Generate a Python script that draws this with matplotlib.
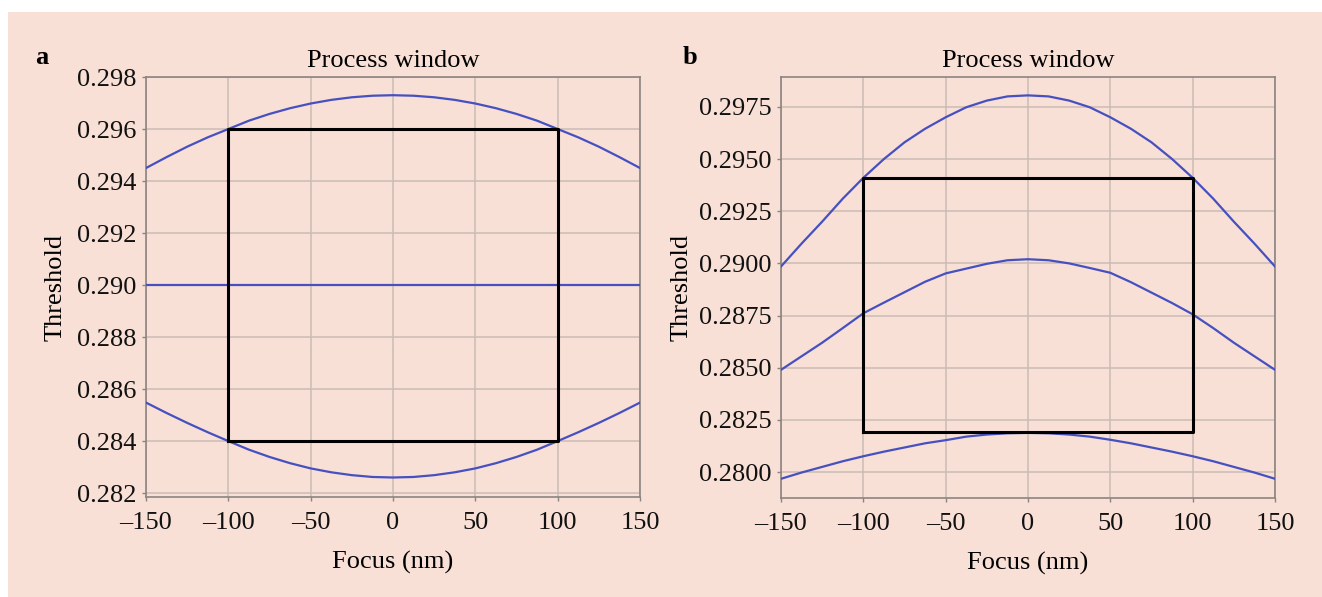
import matplotlib.pyplot as plt
import matplotlib.patches as patches

plt.rcParams['font.family'] = ['Liberation Serif', 'DejaVu Serif']

# focus values (nm)
focus = [-150, -137.5, -125, -112.5, -100, -87.5, -75, -62.5, -50, -37.5, -25, -12.5, 0,
         12.5, 25, 37.5, 50, 62.5, 75, 87.5, 100, 112.5, 125, 137.5, 150]

# panel a thresholds
a_upper = [0.29450, 0.29492, 0.29532, 0.29568, 0.29600, 0.29632, 0.29658, 0.29680,
           0.29698, 0.29712, 0.29722, 0.29728, 0.29730, 0.29728, 0.29722, 0.29712,
           0.29698, 0.29680, 0.29658, 0.29632, 0.29600, 0.29568, 0.29532, 0.29492,
           0.29450]
a_middle = [0.2900] * 25
a_lower = [0.28548, 0.28508, 0.28470, 0.28434, 0.28400, 0.28367, 0.28339, 0.28315,
           0.28295, 0.28280, 0.28269, 0.28262, 0.28260, 0.28262, 0.28269, 0.28280,
           0.28295, 0.28315, 0.28339, 0.28367, 0.28400, 0.28434, 0.28470, 0.28508,
           0.28548]
a_window = (-100, 100, 0.2840, 0.2960)
a_yticks = [0.282, 0.284, 0.286, 0.288, 0.290, 0.292, 0.294, 0.296, 0.298]

# panel b thresholds
b_upper = [0.28985, 0.29095, 0.29200, 0.29310, 0.29410, 0.29500, 0.29580, 0.29645,
           0.29700, 0.29748, 0.29780, 0.29800, 0.29805, 0.29800, 0.29780, 0.29748,
           0.29700, 0.29645, 0.29580, 0.29500, 0.29410, 0.29310, 0.29200, 0.29095,
           0.28985]
b_middle = [0.28490, 0.28555, 0.28620, 0.28690, 0.28761, 0.28812, 0.28862, 0.28912,
            0.28952, 0.28975, 0.28998, 0.29015, 0.29020, 0.29015, 0.29000, 0.28978,
            0.28955, 0.28910, 0.28860, 0.28810, 0.28756, 0.28690, 0.28620, 0.28555,
            0.28490]
b_lower = [0.27968, 0.27998, 0.28025, 0.28052, 0.28076, 0.28098, 0.28118, 0.28138,
           0.28153, 0.28170, 0.28180, 0.28186, 0.28188, 0.28186, 0.28180, 0.28170,
           0.28155, 0.28138, 0.28118, 0.28098, 0.28076, 0.28052, 0.28025, 0.27998,
           0.27968]
b_window = (-100, 100, 0.2819, 0.2941)
b_yticks = [0.2800, 0.2825, 0.2850, 0.2875, 0.2900, 0.2925, 0.2950, 0.2975]

xticks = [-150, -100, -50, 0, 50, 100, 150]
xticklabels = ['\u2013150', '\u2013100', '\u201350', '0', '50', '100', '150']

bg = '#f8e0d6'
blue = '#4650c0'
grid_c = '#cbbcb4'
spine_c = '#8c8480'
fs = 19

fig = plt.figure(figsize=(13.22, 5.97), dpi=100)
fig.patch.set_facecolor('white')
fig.patches.append(patches.Rectangle((8 / 1322, 0), 1 - 8 / 1322, 1 - 12 / 597,
                                     transform=fig.transFigure, facecolor=bg,
                                     edgecolor='none', zorder=-10))


def draw_panel(ax, curves, window, yticks, ylim, yfmt, ylab_x):
    ax.set_facecolor(bg)
    for ys in curves:
        ax.plot(focus, ys, color=blue, lw=1.6, zorder=3)
    x0, x1, y0, y1 = window
    ax.plot([x0, x1, x1, x0, x0], [y0, y0, y1, y1, y0], color='black',
            lw=2.2, zorder=4)
    ax.set_xlim(-150, 150)
    ax.set_ylim(*ylim)
    ax.set_xticks(xticks)
    ax.set_xticklabels(xticklabels)
    ax.set_yticks(yticks)
    ax.set_yticklabels([yfmt.format(v) for v in yticks])
    ax.grid(True, color=grid_c, lw=1.1)
    ax.set_axisbelow(True)
    for s in ax.spines.values():
        s.set_color(spine_c)
        s.set_linewidth(1.2)
    ax.tick_params(colors=spine_c, labelcolor='#111111', labelsize=fs,
                   length=3, width=1)
    ax.tick_params(axis='x', pad=8)
    ax.tick_params(axis='y', pad=4)
    ax.set_title('Process window', fontsize=fs, pad=7)
    ax.set_xlabel('Focus (nm)', fontsize=fs)
    ax.set_ylabel('Threshold', fontsize=fs)
    ax.xaxis.set_label_coords(0.5, -0.128)
    ax.yaxis.set_label_coords(ylab_x, 0.5)


ax1 = fig.add_axes([146 / 1322, 1 - 497 / 597, 494 / 1322, 420 / 597])
draw_panel(ax1, [a_upper, a_middle, a_lower], a_window, a_yticks,
           (0.28185, 0.2980), '{:.3f}', -0.161)

ax2 = fig.add_axes([781 / 1322, 1 - 498 / 597, 494 / 1322, 421 / 597])
draw_panel(ax2, [b_upper, b_middle, b_lower], b_window, b_yticks,
           (0.27876, 0.29893), '{:.4f}', -0.180)

fig.text(42 / 1322, 1 - 57 / 597, 'a', ha='center', va='center',
         fontsize=fs, fontweight='bold')
fig.text(690 / 1322, 1 - 57 / 597, 'b', ha='center', va='center',
         fontsize=fs, fontweight='bold')

fig.savefig('out.png', dpi=100, facecolor=fig.get_facecolor())
